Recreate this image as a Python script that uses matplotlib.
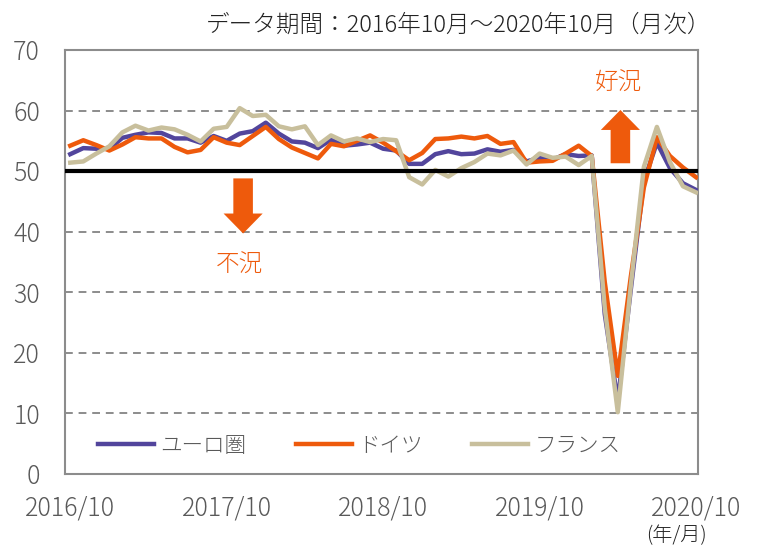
import matplotlib
matplotlib.use('Agg')
import matplotlib.pyplot as plt
from matplotlib.patches import FancyArrow
import numpy as np

plt.rcParams['font.family'] = ['Noto Sans CJK JP', 'DejaVu Sans']
plt.rcParams['font.weight'] = 'light'

# monthly index 2016/10 .. 2020/10 (49 months)
months = np.arange(49)
tick_pos = [0, 12, 24, 36, 48]
tick_labels = ['2016/10', '2017/10', '2018/10', '2019/10', '2020/10']

euro = [52.8, 53.8, 53.7, 53.7, 55.5, 56.0, 56.4, 56.3, 55.4, 55.4, 54.7, 55.8,
        55.0, 56.2, 56.6, 58.0, 56.2, 54.9, 54.7, 53.8, 55.2, 54.2, 54.4, 54.7,
        53.7, 53.4, 51.2, 51.2, 52.8, 53.3, 52.8, 52.9, 53.6, 53.2, 53.5, 51.6,
        52.2, 51.9, 52.8, 52.5, 52.6, 26.4, 12.0, 30.5, 48.3, 54.7, 50.5, 48.0,
        46.9]
germany = [54.2, 55.1, 54.3, 53.4, 54.4, 55.6, 55.4, 55.4, 54.0, 53.1, 53.5, 55.6,
           54.7, 54.3, 55.8, 57.3, 55.3, 53.9, 53.0, 52.1, 54.5, 54.1, 55.0, 55.9,
           54.7, 53.3, 51.8, 53.0, 55.3, 55.4, 55.7, 55.4, 55.8, 54.5, 54.8, 51.4,
           51.6, 51.7, 52.9, 54.2, 52.5, 31.7, 16.2, 32.6, 47.3, 55.6, 52.5, 50.6,
           49.0]
france = [51.4, 51.6, 52.9, 54.1, 56.4, 57.5, 56.7, 57.2, 56.9, 56.0, 54.9, 57.0,
          57.3, 60.4, 59.1, 59.3, 57.4, 56.9, 57.4, 54.3, 55.9, 54.9, 55.4, 54.8,
          55.3, 55.1, 49.0, 47.8, 50.2, 49.1, 50.5, 51.5, 52.9, 52.6, 53.4, 51.1,
          52.9, 52.2, 52.4, 51.0, 52.5, 27.4, 10.2, 31.1, 50.7, 57.3, 51.5, 47.5,
          46.5]

c_euro = '#52459C'
c_de = '#EE5A0C'
c_fr = '#C8BF9C'
gray = '#595959'

fig = plt.figure(figsize=(7.58, 5.47), dpi=100)
ax = fig.add_axes([0.0858, 0.1335, 0.835, 0.7751])

for y in range(10, 70, 10):
    ax.axhline(y, color='#8C8C8C', lw=1.4, ls=(0, (4, 3)), zorder=1)

ax.plot(months, euro, color=c_euro, lw=3.2, label='ユーロ圏', zorder=3)
ax.plot(months, germany, color=c_de, lw=3.2, label='ドイツ', zorder=4)
ax.plot(months, france, color=c_fr, lw=3.2, label='フランス', zorder=5)
ax.axhline(50, color='black', lw=3, zorder=6)

# arrows
ax.add_patch(FancyArrow(13.26, 48.8, 0, -9.1, width=1.5, head_width=3.0,
                        head_length=3.3, length_includes_head=True,
                        color=c_de, lw=0, zorder=7))
ax.add_patch(FancyArrow(42.2, 51.3, 0, 8.8, width=1.5, head_width=3.0,
                        head_length=3.3, length_includes_head=True,
                        color=c_de, lw=0, zorder=7))
ax.text(13.0, 34.5, '不況', color=c_de, fontsize=17, ha='center', va='center')
ax.text(42.05, 64.5, '好況', color=c_de, fontsize=17, ha='center', va='center')

ax.set_xlim(-0.4, 48.15)
ax.set_ylim(0, 70)
ax.set_yticks(range(0, 80, 10))
ax.set_xticks(tick_pos)
ax.set_xticklabels(tick_labels)
ax.tick_params(axis='both', length=0, labelsize=18, colors=gray)
ax.tick_params(axis='y', pad=18)
ax.tick_params(axis='x', pad=15)
for s in ax.spines.values():
    s.set_color('#8C8C8C')
    s.set_linewidth(1.5)

leg = ax.legend(loc='center', bbox_to_anchor=(0.465, 0.066), ncol=3,
                frameon=False, fontsize=15.5, handlelength=2.6,
                handletextpad=0.3, columnspacing=2.3)
for t in leg.get_texts():
    t.set_color(gray)

fig.text(0.938, 0.954, 'データ期間：2016年10月～2020年10月（月次）',
         ha='right', va='center', fontsize=17, color='#222222')
fig.text(0.892, 0.021, '(年/月)', ha='center', va='center', fontsize=14.5,
         color='#222222')

fig.savefig('out.png', dpi=100)
